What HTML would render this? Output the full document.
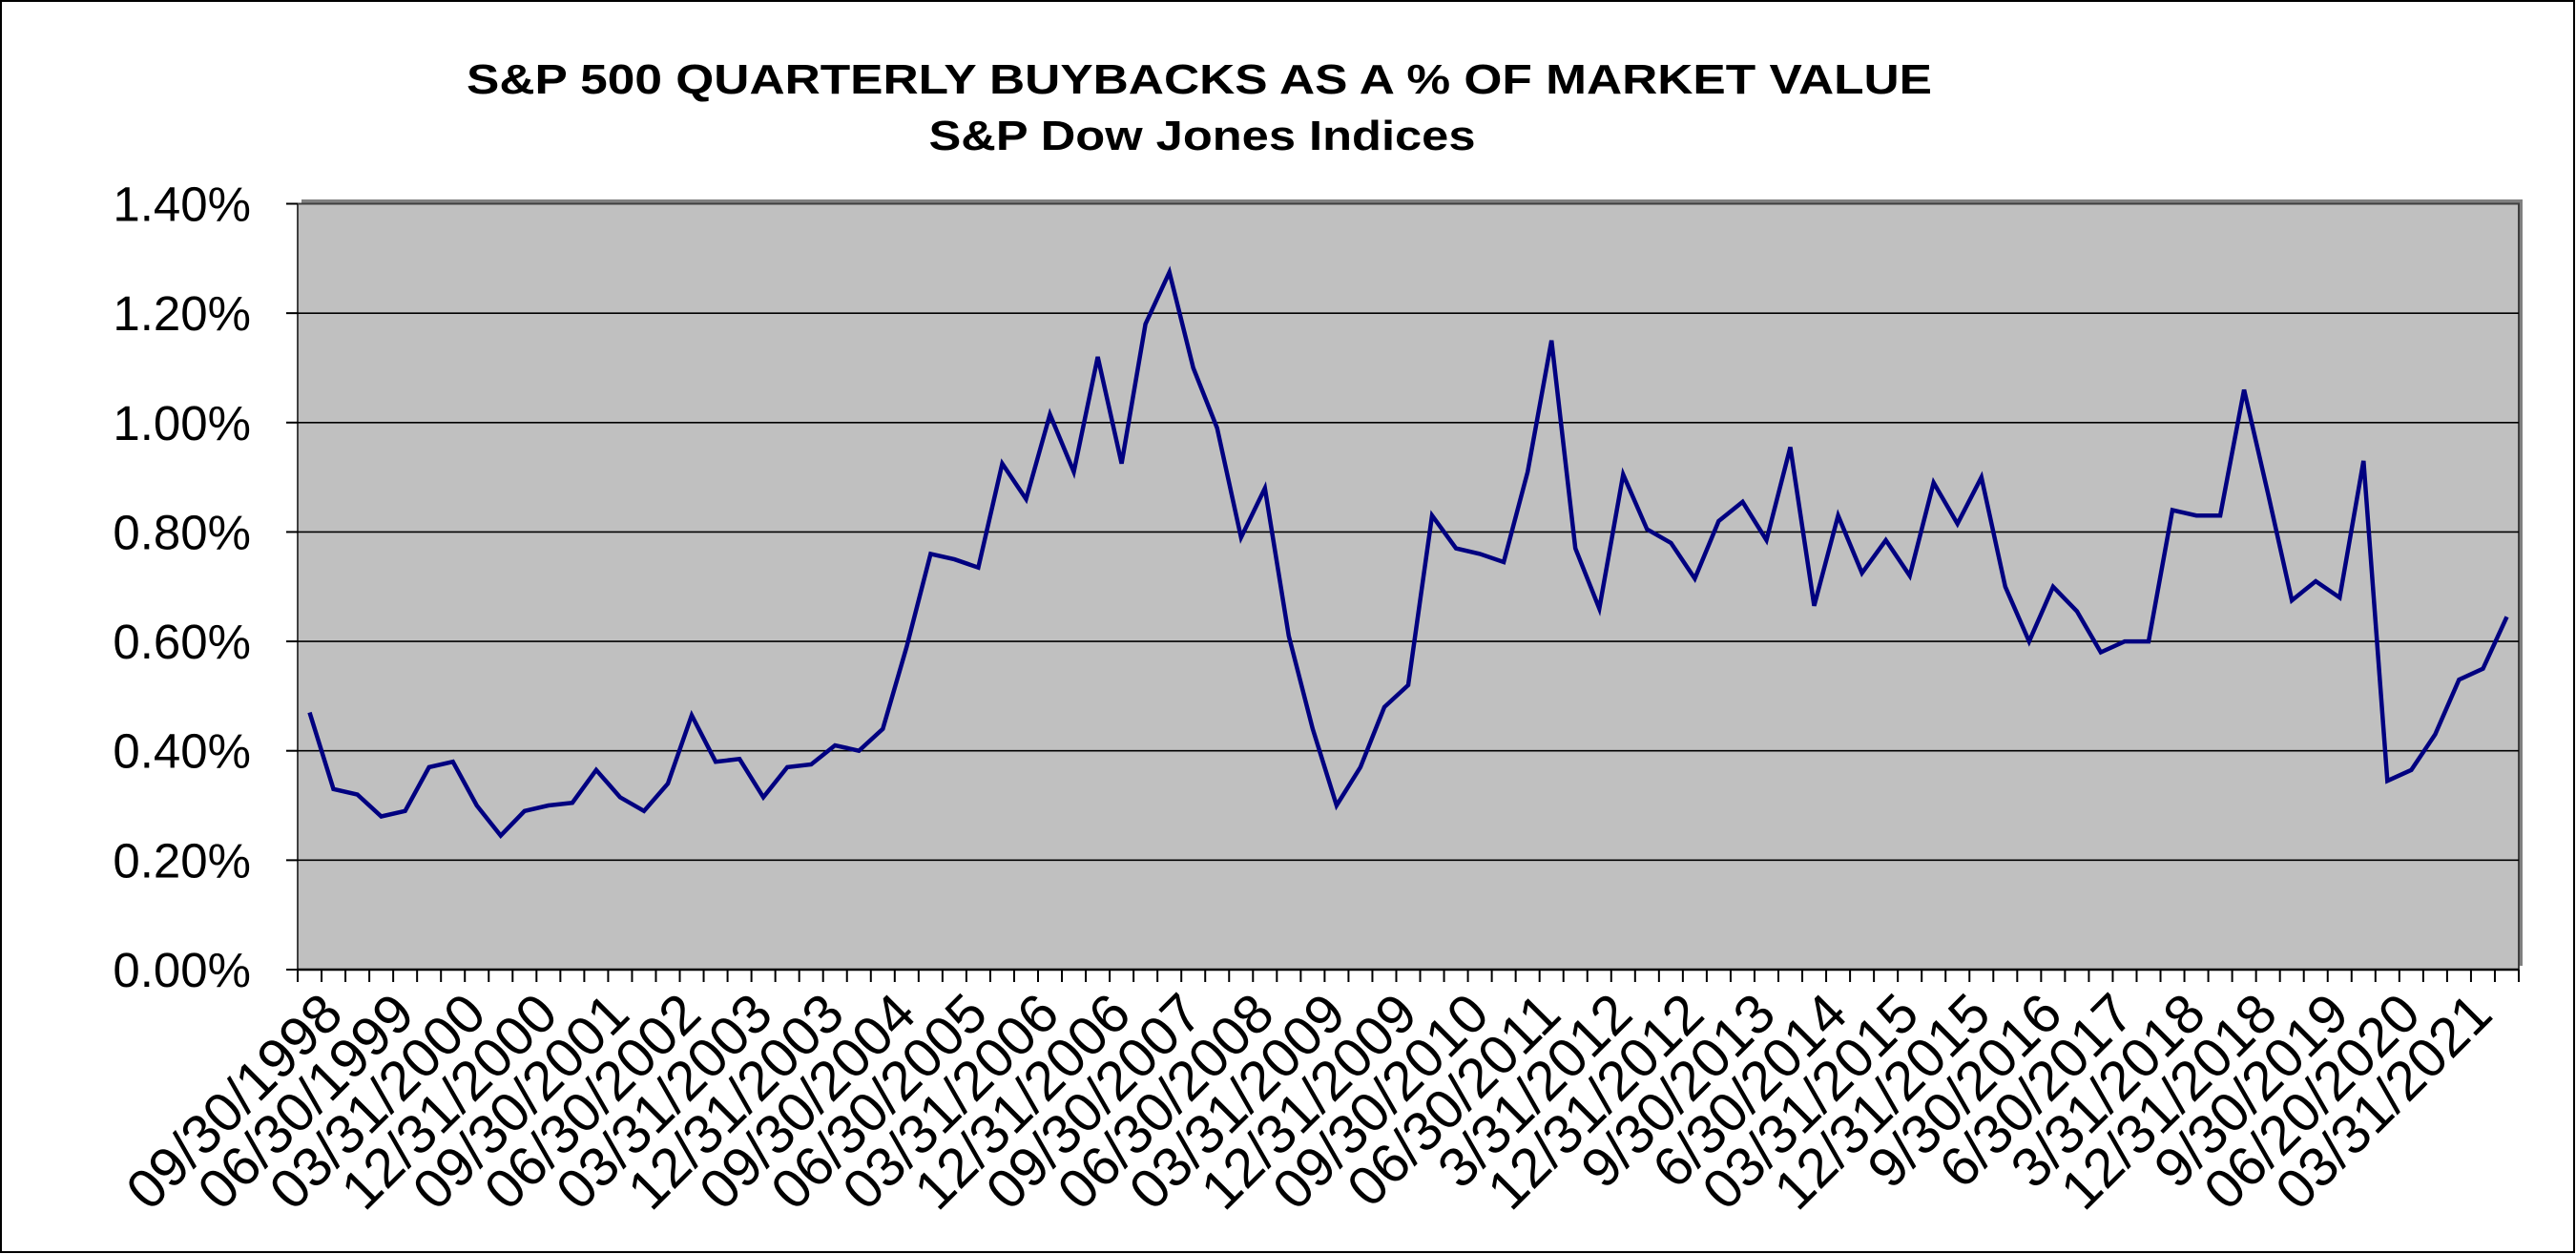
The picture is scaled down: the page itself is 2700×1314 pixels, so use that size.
<!DOCTYPE html>
<html><head><meta charset="utf-8"><style>
html,body{margin:0;padding:0;background:#fff;}
svg{display:block;}
text{font-family:"Liberation Sans",Arial,sans-serif;fill:#000;}
</style></head><body>
<svg id="c" width="2700" height="1314" viewBox="0 0 2700 1314" xmlns="http://www.w3.org/2000/svg">
<rect x="1" y="1" width="2697" height="1311" fill="#fff" stroke="#000" stroke-width="2"/>
<text x="1257" y="98" text-anchor="middle" font-weight="bold" font-size="44" textLength="1536" lengthAdjust="spacingAndGlyphs">S&amp;P 500 QUARTERLY BUYBACKS AS A % OF MARKET VALUE</text>
<text x="1260" y="157" text-anchor="middle" font-weight="bold" font-size="44" textLength="573" lengthAdjust="spacingAndGlyphs">S&amp;P Dow Jones Indices</text>
<rect x="316" y="209" width="2328" height="803" fill="#808080"/>
<rect x="312" y="213.5" width="2328" height="802.5" fill="#c0c0c0" stroke="#404040" stroke-width="2"/>
<g id="grid"></g>
<g id="ticks"></g>
<polyline id="line" fill="none" stroke="#000080" stroke-width="4.5" stroke-linejoin="miter"/>
<g id="labels"></g>
</svg>
<script>
var v=[0.47,0.33,0.32,0.28,0.29,0.37,0.38,0.30,0.245,0.29,0.30,0.305,0.365,0.315,0.29,0.34,0.465,0.38,0.385,0.315,0.37,0.375,0.41,0.40,0.44,0.59,0.76,0.75,0.735,0.925,0.86,1.015,0.91,1.12,0.925,1.18,1.275,1.10,0.99,0.79,0.88,0.61,0.44,0.30,0.37,0.48,0.52,
0.83,0.77,0.76,0.745,0.91,1.15,0.77,0.66,0.905,0.805,0.78,0.715,0.82,0.855,0.785,0.955,0.665,0.83,0.725,0.785,0.72,0.89,0.815,0.90,0.70,0.60,0.70,0.655,0.58,0.60,0.60,0.84,0.83,0.83,1.06,0.87,0.675,0.71,0.68,0.93,0.345,0.365,0.43,0.53,0.55,0.645];
var L=312,R=2640,T=213.5,B=1016,n=93,cw=(R-L)/n;
function Y(val){return B-(val/1.4)*(B-T);}
var ns="http://www.w3.org/2000/svg",g=document.getElementById('grid'),tk=document.getElementById('ticks'),lb=document.getElementById('labels');
function el(p,t,a,txt){var e=document.createElementNS(ns,t);for(var k in a)e.setAttribute(k,a[k]);if(txt)e.textContent=txt;p.appendChild(e);return e;}
var yl=["0.00%","0.20%","0.40%","0.60%","0.80%","1.00%","1.20%","1.40%"];
for(var i=0;i<8;i++){var y=Y(i*0.2);
 if(i>0&&i<7)el(g,'line',{x1:L,x2:R,y1:y,y2:y,stroke:'#000','stroke-width':1.6});
 el(tk,'line',{x1:L-12,x2:L,y1:y,y2:y,stroke:'#000','stroke-width':2});
 el(lb,'text',{x:263,y:y+18,'text-anchor':'end','font-size':51},yl[i]);}
for(var i=0;i<=n;i++){var x=L+i*cw;el(tk,'line',{x1:x,x2:x,y1:B,y2:B+13,stroke:'#000','stroke-width':2});}
el(tk,'line',{x1:L,x2:R,y1:B,y2:B,stroke:'#000','stroke-width':2.5});
var pts=v.map(function(val,i){return (L+cw*(i+0.5)).toFixed(1)+','+Y(val).toFixed(1);}).join(' ');
document.getElementById('line').setAttribute('points',pts);
var xl=["09/30/1998","06/30/1999","03/31/2000","12/31/2000","09/30/2001","06/30/2002","03/31/2003","12/31/2003","09/30/2004","06/30/2005","03/31/2006","12/31/2006","09/30/2007","06/30/2008","03/31/2009","12/31/2009","09/30/2010","06/30/2011","3/31/2012","12/31/2012","9/30/2013","6/30/2014","03/31/2015","12/31/2015","9/30/2016","6/30/2017","3/31/2018","12/31/2018","9/30/2019","06/20/2020","03/31/2021"];
for(var k=0;k<xl.length;k++){var px=L+cw*(k*3+0.5);
 el(lb,'text',{transform:'translate('+(px+8)+',1036) rotate(-45)','text-anchor':'end','font-size':58,dy:'0.72em'},xl[k]);}
</script>
</body></html>
